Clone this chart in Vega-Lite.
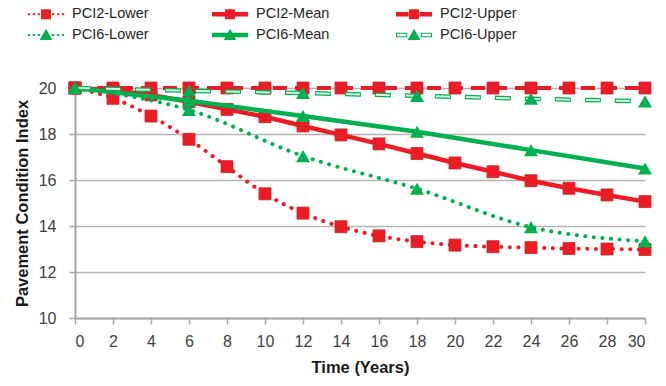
{
  "$schema": "https://vega.github.io/schema/vega-lite/v6.json",
  "width": 570,
  "height": 230,
  "autosize": {"type": "none"},
  "padding": {"left": 75, "top": 88, "right": 21, "bottom": 68},
  "background": "white",
  "config": {"view": {"stroke": null}, "font": "Liberation Sans"},
  "data": {
    "values": [
      {"series": "PCI2-Lower", "t": 0, "pci": 20},
      {"series": "PCI2-Lower", "t": 2, "pci": 19.55},
      {"series": "PCI2-Lower", "t": 4, "pci": 18.78},
      {"series": "PCI2-Lower", "t": 6, "pci": 17.77},
      {"series": "PCI2-Lower", "t": 8, "pci": 16.58},
      {"series": "PCI2-Lower", "t": 10, "pci": 15.4},
      {"series": "PCI2-Lower", "t": 12, "pci": 14.56},
      {"series": "PCI2-Lower", "t": 14, "pci": 13.97},
      {"series": "PCI2-Lower", "t": 16, "pci": 13.57},
      {"series": "PCI2-Lower", "t": 18, "pci": 13.32},
      {"series": "PCI2-Lower", "t": 20, "pci": 13.17},
      {"series": "PCI2-Lower", "t": 22, "pci": 13.1},
      {"series": "PCI2-Lower", "t": 24, "pci": 13.06},
      {"series": "PCI2-Lower", "t": 26, "pci": 13.02},
      {"series": "PCI2-Lower", "t": 28, "pci": 13.0},
      {"series": "PCI2-Lower", "t": 30, "pci": 12.98},
      {"series": "PCI2-Mean", "t": 0, "pci": 20},
      {"series": "PCI2-Mean", "t": 2, "pci": 19.9},
      {"series": "PCI2-Mean", "t": 4, "pci": 19.7},
      {"series": "PCI2-Mean", "t": 6, "pci": 19.4},
      {"series": "PCI2-Mean", "t": 8, "pci": 19.07},
      {"series": "PCI2-Mean", "t": 10, "pci": 18.75},
      {"series": "PCI2-Mean", "t": 12, "pci": 18.35},
      {"series": "PCI2-Mean", "t": 14, "pci": 17.96},
      {"series": "PCI2-Mean", "t": 16, "pci": 17.57},
      {"series": "PCI2-Mean", "t": 18, "pci": 17.15},
      {"series": "PCI2-Mean", "t": 20, "pci": 16.74},
      {"series": "PCI2-Mean", "t": 22, "pci": 16.36},
      {"series": "PCI2-Mean", "t": 24, "pci": 15.97},
      {"series": "PCI2-Mean", "t": 26, "pci": 15.64},
      {"series": "PCI2-Mean", "t": 28, "pci": 15.35},
      {"series": "PCI2-Mean", "t": 30, "pci": 15.06},
      {"series": "PCI2-Upper", "t": 0, "pci": 20},
      {"series": "PCI2-Upper", "t": 2, "pci": 20},
      {"series": "PCI2-Upper", "t": 4, "pci": 20},
      {"series": "PCI2-Upper", "t": 6, "pci": 20},
      {"series": "PCI2-Upper", "t": 8, "pci": 20},
      {"series": "PCI2-Upper", "t": 10, "pci": 20},
      {"series": "PCI2-Upper", "t": 12, "pci": 20},
      {"series": "PCI2-Upper", "t": 14, "pci": 20},
      {"series": "PCI2-Upper", "t": 16, "pci": 20},
      {"series": "PCI2-Upper", "t": 18, "pci": 20},
      {"series": "PCI2-Upper", "t": 20, "pci": 20},
      {"series": "PCI2-Upper", "t": 22, "pci": 20},
      {"series": "PCI2-Upper", "t": 24, "pci": 20},
      {"series": "PCI2-Upper", "t": 26, "pci": 20},
      {"series": "PCI2-Upper", "t": 28, "pci": 20},
      {"series": "PCI2-Upper", "t": 30, "pci": 20},
      {"series": "PCI6-Lower", "t": 0, "pci": 20},
      {"series": "PCI6-Lower", "t": 6, "pci": 19.05},
      {"series": "PCI6-Lower", "t": 12, "pci": 17.04},
      {"series": "PCI6-Lower", "t": 18, "pci": 15.62},
      {"series": "PCI6-Lower", "t": 24, "pci": 13.95},
      {"series": "PCI6-Lower", "t": 30, "pci": 13.33},
      {"series": "PCI6-Mean", "t": 0, "pci": 20},
      {"series": "PCI6-Mean", "t": 6, "pci": 19.45},
      {"series": "PCI6-Mean", "t": 12, "pci": 18.78},
      {"series": "PCI6-Mean", "t": 18, "pci": 18.1},
      {"series": "PCI6-Mean", "t": 24, "pci": 17.3},
      {"series": "PCI6-Mean", "t": 30, "pci": 16.5},
      {"series": "PCI6-Upper", "t": 0, "pci": 20},
      {"series": "PCI6-Upper", "t": 6, "pci": 19.88},
      {"series": "PCI6-Upper", "t": 12, "pci": 19.78},
      {"series": "PCI6-Upper", "t": 18, "pci": 19.66},
      {"series": "PCI6-Upper", "t": 24, "pci": 19.53},
      {"series": "PCI6-Upper", "t": 30, "pci": 19.42}
    ]
  },
  "encoding": {
    "x": {
      "field": "t", "type": "quantitative",
      "scale": {"domain": [0, 30], "nice": false, "zero": false},
      "axis": {
        "values": [0, 2, 4, 6, 8, 10, 12, 14, 16, 18, 20, 22, 24, 26, 28, 30],
        "grid": false,
        "domainColor": "#A6A6A6", "domainWidth": 2,
        "tickColor": "#A6A6A6", "tickWidth": 1.5, "tickSize": 6,
        "labelFontSize": 16, "labelColor": "#404040", "labelPadding": 9,
        "title": "Time (Years)", "titleFontSize": 16.5, "titleFontWeight": "bold",
        "titleColor": "#1a1a1a", "titlePadding": 10
      }
    },
    "y": {
      "field": "pci", "type": "quantitative",
      "scale": {"domain": [10, 20], "nice": false, "zero": false},
      "axis": {
        "values": [10, 12, 14, 16, 18, 20],
        "grid": true, "gridColor": "#B3B3B3", "gridWidth": 1.5,
        "domainColor": "#A6A6A6", "domainWidth": 2,
        "tickColor": "#A6A6A6", "tickWidth": 1.5, "tickSize": 6,
        "labelFontSize": 16, "labelColor": "#404040", "labelPadding": 13,
        "title": "Pavement Condition Index", "titleFontSize": 16.5, "titleFontWeight": "bold",
        "titleColor": "#1a1a1a", "titlePadding": 8
      }
    },
    "color": {
      "field": "series", "type": "nominal",
      "scale": {
        "domain": ["PCI2-Lower", "PCI2-Mean", "PCI2-Upper", "PCI6-Lower", "PCI6-Mean", "PCI6-Upper"],
        "range": ["#ED1C24", "#ED1C24", "#ED1C24", "#00B050", "#00B050", "#00B050"]
      },
      "legend": {
        "title": null, "orient": "none", "legendX": -38, "legendY": -83,
        "direction": "horizontal", "columns": 3, "columnPadding": 63, "rowPadding": 5,
        "gridAlign": "all", "symbolSize": 324, "labelFontSize": 14.5, "labelColor": "#262626",
        "labelOffset": 17, "padding": 0, "symbolLimit": 0,
        "encode": {
          "symbols": {
            "update": {
              "shape": {"signal": "datum.value === 'PCI2-Lower' ? 'M-2.02,-0.12h0.24v0.24h-0.24Z M-1.47,-0.12h0.24v0.24h-0.24Z M-0.92,-0.12h0.24v0.24h-0.24Z M0.68,-0.12h0.24v0.24h-0.24Z M1.23,-0.12h0.24v0.24h-0.24Z M1.78,-0.12h0.24v0.24h-0.24Z M-0.55,-0.55H0.55V0.55H-0.55Z' : datum.value === 'PCI2-Mean' ? 'M-2,-0.25H2V0.25H-2Z M-0.55,-0.55H0.55V0.55H-0.55Z' : datum.value === 'PCI2-Upper' ? 'M-2,-0.25H-0.6V0.25H-2Z M0.6,-0.25H2V0.25H0.6Z M-0.55,-0.55H0.55V0.55H-0.55Z' : datum.value === 'PCI6-Lower' ? 'M-2.02,-0.12h0.24v0.24h-0.24Z M-1.47,-0.12h0.24v0.24h-0.24Z M-0.92,-0.12h0.24v0.24h-0.24Z M0.68,-0.12h0.24v0.24h-0.24Z M1.23,-0.12h0.24v0.24h-0.24Z M1.78,-0.12h0.24v0.24h-0.24Z M0,-0.7L0.7,0.55L-0.7,0.55Z' : datum.value === 'PCI6-Mean' ? 'M-2,-0.25H2V0.25H-2Z M0,-0.7L0.7,0.55L-0.7,0.55Z' : 'M-2,-0.25H-0.75V0.25H-2Z M-1.88,-0.13V0.13H-0.87V-0.13Z M0.75,-0.25H2V0.25H0.75Z M0.87,-0.13V0.13H1.88V-0.13Z M0,-0.7L0.7,0.55L-0.7,0.55Z'"},
              "fill": {"signal": "indexof(datum.value, 'PCI2') >= 0 ? '#ED1C24' : '#00B050'"},
              "stroke": {"value": "transparent"},
              "strokeWidth": {"value": 0},
              "strokeDash": {"value": []},
              "opacity": {"value": 1}
            }
          }
        }
      }
    }
  },
  "layer": [
    {
      "transform": [{"filter": "datum.series === 'PCI2-Lower'"}],
      "mark": {"type": "line", "strokeWidth": 4, "strokeDash": [0.1, 8.5], "strokeCap": "round", "interpolate": "monotone"}
    },
    {
      "transform": [{"filter": "datum.series === 'PCI2-Mean'"}],
      "mark": {"type": "line", "strokeWidth": 4.5}
    },
    {
      "transform": [{"filter": "datum.series === 'PCI2-Upper'"}],
      "mark": {"type": "line", "strokeWidth": 4, "strokeDash": [14, 8]}
    },
    {
      "transform": [{"filter": "indexof(datum.series, 'PCI2') >= 0"}],
      "mark": {"type": "point", "shape": "square", "size": 144, "filled": true, "opacity": 1, "stroke": "#C0282D", "strokeWidth": 0.8}
    },
    {
      "transform": [{"filter": "datum.series === 'PCI6-Lower'"}],
      "mark": {"type": "line", "strokeWidth": 4, "strokeDash": [0.1, 8.5], "strokeCap": "round", "interpolate": "monotone"}
    },
    {
      "transform": [{"filter": "datum.series === 'PCI6-Mean'"}],
      "mark": {"type": "line", "strokeWidth": 4.5}
    },
    {
      "transform": [{"filter": "datum.series === 'PCI6-Upper'"}],
      "mark": {"type": "line", "strokeWidth": 4.5, "strokeDash": [16, 14]}
    },
    {
      "transform": [{"filter": "datum.series === 'PCI6-Upper'"}],
      "mark": {"type": "line", "strokeWidth": 2, "strokeDash": [14, 16], "strokeDashOffset": -1, "color": "#D9F3E0"},
      "encoding": {"color": {"value": "#D9F3E0"}}
    },
    {
      "transform": [{"filter": "indexof(datum.series, 'PCI6') >= 0"}],
      "mark": {"type": "point", "shape": "triangle-up", "size": 196, "filled": true, "opacity": 1}
    }
  ]
}
